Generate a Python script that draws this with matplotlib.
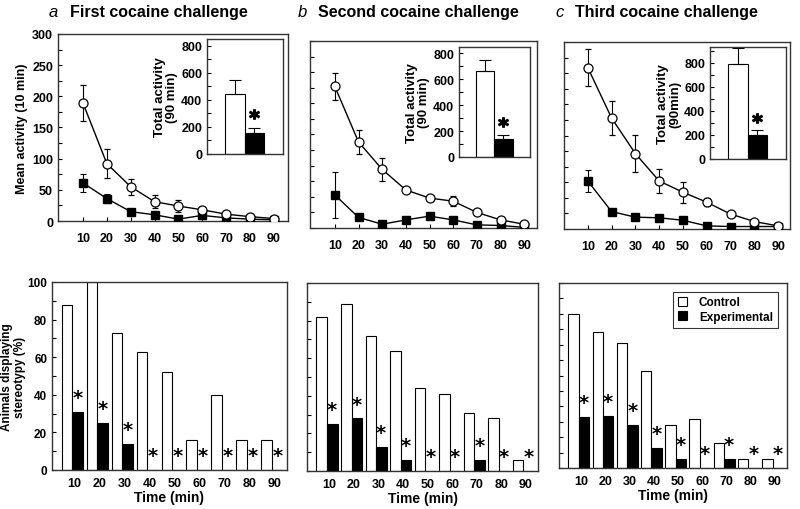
import matplotlib.pyplot as plt
import matplotlib.ticker as mticker
from matplotlib.patches import Patch
import numpy as np

plt.rcParams['font.family'] = ['Liberation Sans', 'DejaVu Sans']
plt.rcParams['font.weight'] = 'bold'

# время, мин
times = [10, 20, 30, 40, 50, 60, 70, 80, 90]

# средняя активность (10 мин) — контроль / эксперимент
ctrl_a = [189, 92, 55, 31, 24, 18, 11, 7, 4]
ctrl_a_err = [29, 23, 13, 10, 10, 5, 3, 3, 2]
exp_a = [61, 36, 15, 10, 3, 9, 5, 3, 2]
exp_a_err = [15, 7, 3, 3, 2, 2, 2, 2, 1]

ctrl_b = [227, 138, 94, 61, 48, 43, 25, 13, 6]
ctrl_b_err = [21, 19, 18, 4, 4, 8, 3, 3, 2]
exp_b = [53, 17, 6, 13, 19, 13, 5, 4, 1]
exp_b_err = [37, 3, 3, 3, 3, 3, 2, 2, 1]

ctrl_c = [259, 178, 121, 77, 59, 43, 24, 12, 5]
ctrl_c_err = [30, 27, 30, 20, 17, 6, 3, 3, 2]
exp_c = [77, 28, 19, 18, 14, 5, 4, 4, 4]
exp_c_err = [17, 4, 3, 3, 3, 2, 2, 2, 2]

# суммарная активность (90 мин) — вставки
total_ctrl = [443, 662, 786]
total_ctrl_err = [104, 87, 133]
total_exp = [153, 136, 200]
total_exp_err = [41, 33, 37]

# животные со стереотипией, %
stereo_ctrl_a = [88, 100, 73, 63, 52, 16, 40, 16, 16]
stereo_exp_a = [31, 25, 14, 0, 0, 0, 0, 0, 0]
stereo_ctrl_b = [82, 89, 72, 64, 44, 41, 31, 28, 6]
stereo_exp_b = [25, 28, 13, 6, 0, 0, 6, 0, 0]
stereo_ctrl_c = [100, 88, 81, 63, 28, 32, 16, 6, 6]
stereo_exp_c = [33, 34, 28, 13, 6, 0, 6, 0, 0]

letters = ['a', 'b', 'c']
titles = ['First cocaine challenge', 'Second cocaine challenge', 'Third cocaine challenge']
inset_labels = ['Total activity\n(90 min)', 'Total activity\n(90 min)', 'Total activity\n(90min)']

EDGE = '#333333'


def style_axes(ax, size=9):
    for s in ax.spines.values():
        s.set_color(EDGE)
        s.set_linewidth(1.0)
    ax.tick_params(direction='in', colors='black', width=0.8, length=3,
                   labelsize=size)
    ax.tick_params(which='minor', direction='in', width=0.8, length=3)


fig = plt.figure(figsize=(8, 5.1), dpi=100)

top_pos = [[0.0725, 0.5647, 0.2875, 0.3667],
           [0.3875, 0.551, 0.284, 0.3667],
           [0.705, 0.549, 0.2825, 0.3667]]
top_xlim = [(-0.5, 96), (-0.5, 95.5), (0, 95)]
inset_pos = [[0.2588, 0.6961, 0.095, 0.2255],
             [0.5738, 0.6902, 0.0888, 0.2157],
             [0.8875, 0.6863, 0.095, 0.2196]]
inset_ylim = [850, 850, 930]
bot_pos = [[0.065, 0.0765, 0.29375, 0.3686],
           [0.38375, 0.0745, 0.28875, 0.3686],
           [0.69875, 0.0804, 0.285, 0.3627]]
bot_ylim = [100, 100, 120]

ctrl_lines = [ctrl_a, ctrl_b, ctrl_c]
ctrl_errs = [ctrl_a_err, ctrl_b_err, ctrl_c_err]
exp_lines = [exp_a, exp_b, exp_c]
exp_errs = [exp_a_err, exp_b_err, exp_c_err]
stereo_ctrl = [stereo_ctrl_a, stereo_ctrl_b, stereo_ctrl_c]
stereo_exp = [stereo_exp_a, stereo_exp_b, stereo_exp_c]

letter_x = [0.061, 0.3725, 0.694]
title_x = [0.0875, 0.3975, 0.719]

for i in range(3):
    # верхний график: динамика активности
    ax = fig.add_axes(top_pos[i])
    ax.errorbar(times, exp_lines[i], yerr=exp_errs[i], color='black', lw=1,
                marker='s', ms=6, mfc='black', mec='black',
                capsize=2.5, elinewidth=0.8, capthick=0.8, zorder=3)
    ax.errorbar(times, ctrl_lines[i], yerr=ctrl_errs[i], color='black', lw=1,
                marker='o', ms=6.5, mfc='white', mec='black', mew=0.9,
                capsize=2.5, elinewidth=0.8, capthick=0.8, zorder=4)
    ax.set_xlim(*top_xlim[i])
    ax.set_ylim(0, 300)
    ax.set_xticks(times)
    ax.yaxis.set_major_locator(mticker.MultipleLocator(50))
    ax.yaxis.set_minor_locator(mticker.MultipleLocator(25))
    style_axes(ax)
    ax.tick_params(axis='x', length=3, pad=8)
    if i == 0:
        ax.set_ylabel('Mean activity (10 min)', fontsize=9, fontweight='bold',
                      labelpad=3)
    else:
        ax.set_yticklabels([])

    # заголовок панели: буква курсивом + название жирным
    fig.text(letter_x[i], 0.975, letters[i], fontsize=12, style='italic',
             fontweight='normal', va='center', ha='left')
    fig.text(title_x[i], 0.975, titles[i], fontsize=11.5, fontweight='bold',
             va='center', ha='left')

    # вставка: суммарная активность
    ins = fig.add_axes(inset_pos[i])
    ins.bar([0], [total_ctrl[i]], width=1, color='white', edgecolor='black',
            lw=0.8, yerr=[[0], [total_ctrl_err[i]]], capsize=4,
            error_kw=dict(elinewidth=0.8, capthick=0.8))
    ins.bar([1], [total_exp[i]], width=1, color='black', edgecolor='black',
            lw=0.8, yerr=[[0], [total_exp_err[i]]], capsize=4,
            error_kw=dict(elinewidth=0.8, capthick=0.8))
    ins.plot([1], [total_exp[i] + total_exp_err[i] + 100], marker=r'$*$',
             color='black', ms=7, ls='none')
    ins.set_xlim(-1.4, 2.45)
    ins.set_ylim(0, inset_ylim[i])
    ins.set_xticks([])
    ins.yaxis.set_major_locator(mticker.MultipleLocator(200))
    ins.yaxis.set_minor_locator(mticker.MultipleLocator(100))
    style_axes(ins, size=9)
    ins.set_ylabel(inset_labels[i], fontsize=9.5, fontweight='bold',
                   labelpad=2, linespacing=1.0)

    # нижний график: стереотипия
    bx = fig.add_axes(bot_pos[i])
    t = np.array(times)
    bx.bar(t - 3.1, stereo_ctrl[i], width=4.3, color='white',
           edgecolor='black', lw=0.8, label='Control')
    bx.bar(t + 1.2, stereo_exp[i], width=4.3, color='black',
           edgecolor='black', lw=0.8, label='Experimental')
    for x, v in zip(t + 1.2, stereo_exp[i]):
        bx.annotate(r'$\mathbf{*}$', (x, v), xytext=(0, 11),
                    textcoords='offset points', ha='center', va='center',
                    fontsize=14)
    bx.set_xlim(0.9, 95)
    bx.set_ylim(0, bot_ylim[i])
    bx.set_xticks(times)
    bx.yaxis.set_major_locator(mticker.MultipleLocator(20))
    bx.yaxis.set_minor_locator(mticker.MultipleLocator(10))
    style_axes(bx, size=8.5)
    bx.tick_params(axis='x', length=0, pad=5, labelsize=9)
    bx.set_xlabel('Time (min)', fontsize=10, fontweight='bold', labelpad=1)
    if i == 0:
        bx.set_ylabel('Animals displaying\nstereotypy (%)', fontsize=8.5,
                      fontweight='bold', labelpad=1, linespacing=1.05)
    else:
        bx.yaxis.set_major_locator(mticker.MultipleLocator(10))
        bx.set_yticklabels([])
    if i == 2:
        handles = [Patch(facecolor='white', edgecolor='black', lw=0.8),
                   Patch(facecolor='black', edgecolor='black', lw=0.8)]
        leg = bx.legend(handles, ['Control', 'Experimental'], loc='upper right',
                        fontsize=8.5, frameon=True, fancybox=False,
                        handlelength=0.8, handleheight=0.8, borderpad=0.4,
                        labelspacing=0.2, handletextpad=1.0,
                        bbox_to_anchor=(0.985, 0.985))
        leg.get_frame().set_edgecolor('black')
        leg.get_frame().set_linewidth(0.8)

fig.savefig('out.png', dpi=100)
